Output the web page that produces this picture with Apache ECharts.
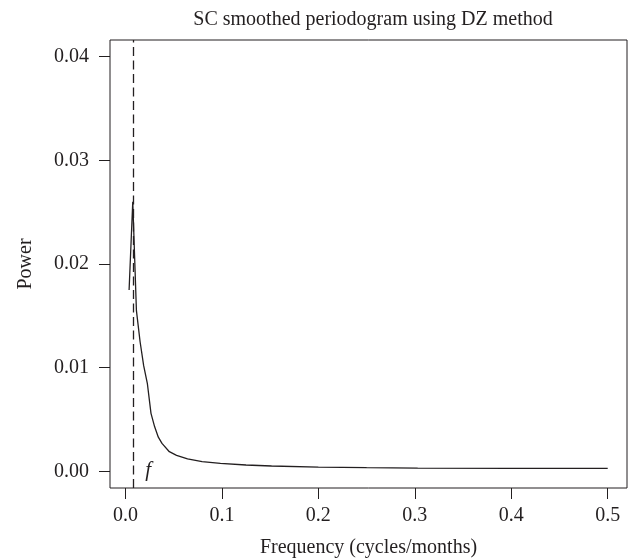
<!DOCTYPE html>
<html>
<head>
<meta charset="utf-8">
<script src="https://cdn.jsdelivr.net/npm/echarts@6/dist/echarts.min.js"></script>
<style>
  html, body { margin: 0; padding: 0; background: #fff; }
  #chart { width: 630px; height: 558px; }
</style>
</head>
<body>
<div id="chart"></div>
<script>
// frequency (cycles/months) and smoothed power
var freqs = [0.0038, 0.0076, 0.0114, 0.0152, 0.0189, 0.0227, 0.0265, 0.0303, 0.0341, 0.0379,
             0.0455, 0.053, 0.0644, 0.0795, 0.0985, 0.125, 0.1515, 0.2, 0.25, 0.303, 0.4, 0.5];
var power = [0.0175, 0.0260, 0.0155, 0.0125, 0.0102, 0.0085, 0.0056, 0.0043, 0.0033, 0.0027,
             0.0019, 0.00155, 0.0012, 0.00095, 0.00078, 0.00062, 0.00052, 0.00042, 0.00036, 0.00032, 0.0003, 0.00029];
var xTicks = [0, 0.1, 0.2, 0.3, 0.4, 0.5];
var yTicks = [0, 0.01, 0.02, 0.03, 0.04];
var peakFreq = 0.0076;

var ink = '#231f20';
var serif = 'Liberation Serif';

var myChart = echarts.init(document.getElementById('chart'));

var option = {
  animation: false,
  backgroundColor: '#fff',
  title: {
    text: 'SC smoothed periodogram using DZ method',
    left: 368, top: 5,
    textAlign: 'center',
    textStyle: { fontFamily: serif, fontSize: 20, fontWeight: 'normal', color: ink }
  },
  grid: {
    left: 110, top: 40, right: 3, bottom: 70,
    outerBoundsMode: 'none',
    show: true, borderColor: ink, borderWidth: 1, backgroundColor: 'transparent'
  },
  xAxis: {
    type: 'value',
    min: -0.016, max: 0.52,
    name: 'Frequency (cycles/months)',
    nameLocation: 'middle',
    nameGap: 50,
    nameTextStyle: { fontFamily: serif, fontSize: 20, color: ink },
    axisLine: { show: false, onZero: false },
    splitLine: { show: false },
    axisTick: { show: true, inside: false, length: 11, customValues: xTicks, lineStyle: { color: ink } },
    axisLabel: {
      customValues: xTicks, margin: 18,
      fontFamily: serif, fontSize: 20, color: ink,
      formatter: function (v) { return v.toFixed(1); }
    }
  },
  yAxis: {
    type: 'value',
    min: -0.0016, max: 0.0416,
    name: 'Power',
    nameLocation: 'middle',
    nameGap: 74,
    nameTextStyle: { fontFamily: serif, fontSize: 20, color: ink },
    axisLine: { show: false, onZero: false },
    splitLine: { show: false },
    axisTick: { show: true, inside: false, length: 11, customValues: yTicks, lineStyle: { color: ink } },
    axisLabel: {
      customValues: yTicks, margin: 21,
      fontFamily: serif, fontSize: 20, color: ink,
      formatter: function (v) { return v.toFixed(2); }
    }
  },
  series: [
    {
      type: 'line',
      data: freqs.map(function (f, i) { return [f, power[i]]; }),
      showSymbol: false,
      lineStyle: { color: ink, width: 1.3 },
      markLine: {
        silent: true,
        symbol: 'none',
        precision: 6,
        label: { show: false },
        lineStyle: { color: ink, width: 1.3, type: [9, 4.5] },
        data: [{ xAxis: peakFreq }]
      },
      markPoint: {
        silent: true,
        symbol: 'circle',
        symbolSize: 0,
        label: {
          show: true, position: 'inside', formatter: 'f',
          fontFamily: serif, fontStyle: 'italic', fontSize: 21, color: ink
        },
        data: [{ coord: [0.0235, 0.0001] }]
      }
    }
  ]
};

myChart.setOption(option);
</script>
</body>
</html>
